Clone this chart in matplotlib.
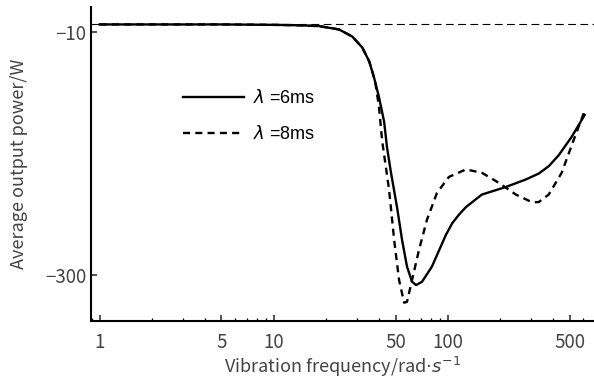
import numpy as np
import matplotlib
matplotlib.use("Agg")
import matplotlib.pyplot as plt
from matplotlib.ticker import FixedLocator, NullFormatter

plt.rcParams['font.family'] = ['Noto Sans CJK SC', 'DejaVu Sans']
plt.rcParams['axes.unicode_minus'] = True

# lambda = 6 ms (solid)
freq6 = [1, 5, 10, 14, 18.2, 23.7, 28.2, 32.2, 35.3, 37.6, 40.2, 43.0, 44.7,
         47.1, 51.0, 54.5, 58.2, 62.2, 65.6, 71.0, 80.9, 97.4, 106, 115.7, 126.8,
         156.6, 215, 280, 332, 380, 433, 514, 610]
power6 = [-1, -1, -1.5, -2, -3, -7, -15.4, -28.5, -45, -64, -88, -117, -148,
          -178, -219, -258, -290, -308, -312, -308, -290, -252, -238, -228, -219,
          -204, -195, -186, -179, -170, -157, -135, -109]

# lambda = 8 ms (dashed)
freq8 = [1, 5, 10, 14, 18.2, 23.7, 28.2, 32.2, 35.3, 38.2, 40.2, 41.9, 45.9,
         49.1, 52.4, 56.0, 58.2, 62.2, 68.2, 75.8, 86.5, 101.3, 126.8, 156.6,
         196, 245.5, 303, 332, 379, 450, 527, 610]
power8 = [-1, -1, -1.5, -2, -3, -7, -15.4, -28.5, -45, -69, -100, -140, -198,
          -258, -306, -333, -332, -306, -270, -234, -202, -183, -174, -178,
          -190, -204, -213, -213, -204, -178, -139, -104]

ref_level = 0
xticks = [1, 5, 10, 50, 100, 500]
yticks = [-10, -300]

fig = plt.figure(figsize=(5.94, 3.80), dpi=100)
ax = fig.add_axes([0.153, 0.155, 0.847, 0.827])

ax.axhline(ref_level, color="black", lw=0.8, ls=(0, (7, 4)))
ax.plot(freq6, power6, color="black", lw=1.7, label="$\\lambda$ =6ms")
ax.plot(freq8, power8, color="black", lw=1.7, ls=(0, (3, 2.2)), label="$\\lambda$ =8ms")

ax.set_xscale("log")
ax.set_xlim(0.89, 690)
ax.set_ylim(-355, 20)
ax.set_xticks(xticks)
ax.set_xticklabels([str(t) for t in xticks])
minor = [m * 10 ** e for e in range(-1, 3) for m in range(1, 10)]
ax.xaxis.set_minor_locator(FixedLocator(minor))
ax.xaxis.set_minor_formatter(NullFormatter())
ax.set_yticks(yticks)
ax.set_yticklabels(["\u221210", "\u2212300"])

ax.spines["top"].set_visible(False)
ax.spines["right"].set_visible(False)
ax.spines["left"].set_linewidth(1.5)
ax.spines["bottom"].set_linewidth(1.5)
ax.tick_params(which="major", direction="in", length=4, width=1.2,
               labelsize=13.5, colors="#333333", labelcolor="#444444")
ax.tick_params(axis="x", which="major", pad=8)
ax.tick_params(which="minor", direction="in", length=2.5, width=0.9)

ax.set_xlabel("Vibration frequency/rad$\\cdot$$s^{-1}$", fontsize=13, color="#444444", labelpad=1)
ax.set_ylabel("Average output power/W", fontsize=13, color="#444444", labelpad=12)

leg = ax.legend(loc="upper left", bbox_to_anchor=(0.15, 0.79), frameon=False,
                handlelength=3.4, handletextpad=0.5, labelspacing=1.0,
                prop={"family": "Liberation Sans", "size": 13})

plt.savefig("out.png", dpi=100)
